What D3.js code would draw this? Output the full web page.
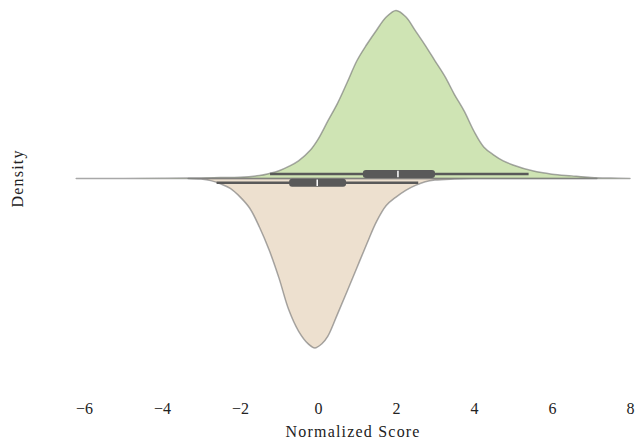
<!DOCTYPE html>
<html><head><meta charset="utf-8">
<script src="https://cdn.jsdelivr.net/npm/d3@7"></script>
<style>
html,body{margin:0;padding:0;background:#fff;}
text{font-family:"Liberation Serif","DejaVu Serif",serif;}
</style>
</head><body>
<svg id="chart" width="637" height="440"></svg>
<script>
// ---- data ----
const xTicks = [-6, -4, -2, 0, 2, 4, 6, 8];
const xLabel = "Normalized Score";
const yLabel = "Density";

// upper (green) half: score grid and relative density
const greenScores  = [-6.2,-5,-4,-3.3,-3,-2.5,-2,-1.5,-1.25,-1,-0.75,-0.5,-0.2,0,0.25,0.5,0.75,1,1.25,1.5,1.75,2,2.25,2.5,2.75,3,3.25,3.5,3.75,4,4.25,4.5,4.75,5,5.5,6,6.5,7,7.5,8];
const greenDensity = [0,0,0.001,0.002,0.003,0.005,0.007,0.017,0.029,0.045,0.071,0.104,0.167,0.232,0.34,0.446,0.571,0.70,0.795,0.88,0.958,0.997,0.96,0.876,0.79,0.698,0.607,0.498,0.399,0.28,0.187,0.14,0.104,0.08,0.045,0.025,0.015,0.006,0.002,0];
// lower (beige) half
const beigeScores  = [-3.33,-3,-2.75,-2.5,-2.25,-2,-1.75,-1.5,-1.25,-1,-0.75,-0.5,-0.25,-0.08,0.1,0.25,0.5,0.75,1,1.25,1.5,1.75,2,2.25,2.5,2.75,3,3.5,4,5,6,7.15];
const beigeDensity = [0,0.004,0.013,0.032,0.059,0.109,0.176,0.288,0.424,0.588,0.775,0.9,0.976,1.0,0.975,0.932,0.8,0.664,0.525,0.387,0.255,0.16,0.11,0.07,0.041,0.02,0.01,0.004,0.001,0.0003,0,0];

// box statistics [whiskerLow, q1, median, q3, whiskerHigh]
const greenBox = [-1.23, 1.15, 2.05, 3.0, 5.4];
const beigeBox = [-2.6, -0.74, -0.02, 0.72, 2.57];

// ---- drawing ----
const svg = d3.select("#chart");
const centerY = 178.4;

const x = d3.scaleLinear().domain([-6.2, 8.0]).range([76.2, 630]);
const yUp = d3.scaleLinear().domain([0, 1]).range([centerY, 10]);
const yDown = d3.scaleLinear().domain([0, 1]).range([centerY, 348]);

function half(scores, dens, ys) {
  const pts = scores.map((s, i) => [s, dens[i]]);
  return d3.area()
    .x(d => x(d[0]))
    .y0(ys(0))
    .y1(d => ys(Math.max(0, d[1])))
    .curve(d3.curveCatmullRom.alpha(0.5))(pts);
}

const halves = [
  {s: greenScores, d: greenDensity, ys: yUp, fill: "#cfe4b4"},
  {s: beigeScores, d: beigeDensity, ys: yDown, fill: "#ede0cf"}
];

halves.forEach(h => {
  svg.append("path").attr("d", half(h.s, h.d, h.ys))
    .attr("fill", h.fill).attr("stroke", "none");
});
halves.forEach(h => {
  svg.append("path").attr("d", half(h.s, h.d, h.ys) + "Z")
    .attr("fill", "none")
    .attr("stroke", "#6e6e6e").attr("stroke-opacity", 0.6)
    .attr("stroke-width", 1.5).attr("stroke-linejoin", "round");
});

function drawBox(b, dy) {
  const cy = centerY + dy;
  svg.append("line")
    .attr("x1", x(b[0])).attr("x2", x(b[4]))
    .attr("y1", cy).attr("y2", cy)
    .attr("stroke", "#595959").attr("stroke-width", 2.4);
  svg.append("rect")
    .attr("x", x(b[1])).attr("width", x(b[3]) - x(b[1]))
    .attr("y", cy - 4).attr("height", 8)
    .attr("rx", 3).attr("fill", "#595959");
  svg.append("line")
    .attr("x1", x(b[2])).attr("x2", x(b[2]))
    .attr("y1", cy - 3.2).attr("y2", cy + 3.2)
    .attr("stroke", "#ffffff").attr("stroke-width", 1.5);
}
drawBox(greenBox, -4.4);
drawBox(beigeBox, 4.4);

// x axis
const axis = svg.append("g").attr("transform", "translate(0,398)")
  .call(d3.axisBottom(x).tickValues(xTicks).tickSize(0).tickPadding(5));
axis.select(".domain").remove();
axis.selectAll("text")
  .attr("font-family", '"Liberation Serif","DejaVu Serif",serif')
  .attr("font-size", 16).attr("fill", "#222");

svg.append("text")
  .attr("x", (x(-6.2) + x(8)) / 2).attr("y", 437)
  .attr("text-anchor", "middle")
  .attr("font-size", 16).attr("letter-spacing", 1.2).attr("fill", "#222")
  .text(xLabel);

svg.append("text")
  .attr("transform", `translate(23,${centerY}) rotate(-90)`)
  .attr("text-anchor", "middle")
  .attr("font-size", 16).attr("letter-spacing", 1.2).attr("fill", "#222")
  .text(yLabel);
</script>
</body></html>
